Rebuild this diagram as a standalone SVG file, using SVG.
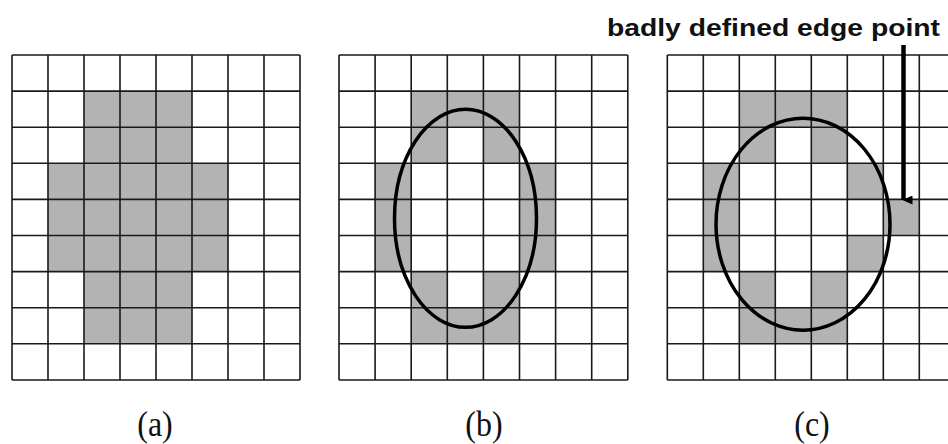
<svg xmlns="http://www.w3.org/2000/svg" width="948" height="444" viewBox="0 0 948 444">
<style>
.bg{fill:#ffffff}
.g{fill:#b3b3b3;stroke:none}
.ln{stroke:#1a1a1a;stroke-width:1.6;fill:none}
.el{fill:none;stroke:#000;stroke-width:3.5}
.lab{font-family:"Liberation Serif","Times New Roman",serif;font-size:32px;fill:#111;text-anchor:middle}
.note{font-family:"Liberation Sans",Arial,sans-serif;font-weight:bold;font-size:23px;fill:#111}
</style>
<defs>
<marker id="ah" markerWidth="9" markerHeight="10" refX="4.5" refY="9" orient="auto-start-reverse" markerUnits="userSpaceOnUse" viewBox="0 0 9 10">
<path d="M0,0 L9,0 L4.5,10 Z" fill="#000"/>
</marker>
</defs>
<rect class="bg" x="0" y="0" width="948" height="444"/>

<g id="panel-a">
<g class="g">
<rect x="84" y="91.1" width="108" height="72.2"/>
<rect x="48" y="163.3" width="180" height="108.3"/>
<rect x="84" y="271.6" width="108" height="72.2"/>
</g>
<g class="ln">
<path d="M12,55V380M48,55V380M84,55V380M120,55V380M156,55V380M192,55V380M228,55V380M264,55V380M300,55V380"/>
<path d="M12,55H300M12,91.1H300M12,127.2H300M12,163.3H300M12,199.4H300M12,235.5H300M12,271.6H300M12,307.7H300M12,343.8H300M12,380H300"/>
</g>
<text class="lab" x="155" y="436" transform="translate(155 436) scale(1 1.12) translate(-155 -436)">(a)</text>
</g>

<g id="panel-b">
<g class="g">
<rect x="411.2" y="91.1" width="108.3" height="36.1"/>
<rect x="411.2" y="127.2" width="36.1" height="36.1"/>
<rect x="483.4" y="127.2" width="36.1" height="36.1"/>
<rect x="375.1" y="163.3" width="36.1" height="108.3"/>
<rect x="519.5" y="163.3" width="36.1" height="108.3"/>
<rect x="411.2" y="271.6" width="36.1" height="36.1"/>
<rect x="483.4" y="271.6" width="36.1" height="36.1"/>
<rect x="411.2" y="307.7" width="108.3" height="36.1"/>
</g>
<g class="ln">
<path d="M339,55V380M375.1,55V380M411.2,55V380M447.3,55V380M483.4,55V380M519.5,55V380M555.6,55V380M591.7,55V380M627.8,55V380"/>
<path d="M339,55H627.8M339,91.1H627.8M339,127.2H627.8M339,163.3H627.8M339,199.4H627.8M339,235.5H627.8M339,271.6H627.8M339,307.7H627.8M339,343.8H627.8M339,380H627.8"/>
</g>
<ellipse class="el" cx="465.5" cy="218.3" rx="71" ry="109"/>
<text class="lab" x="484" y="436" transform="translate(484 436) scale(1 1.12) translate(-484 -436)">(b)</text>
</g>

<g id="panel-c">
<g class="g">
<rect x="739.3" y="91.1" width="108" height="36.1"/>
<rect x="739.3" y="127.2" width="36" height="36.1"/>
<rect x="811.3" y="127.2" width="36" height="36.1"/>
<rect x="703.3" y="163.3" width="36" height="108.3"/>
<rect x="847.3" y="163.3" width="36" height="36.1"/>
<rect x="883.3" y="199.4" width="36" height="36.1"/>
<rect x="847.3" y="235.5" width="36" height="36.1"/>
<rect x="739.3" y="271.6" width="36" height="36.1"/>
<rect x="811.3" y="271.6" width="36" height="36.1"/>
<rect x="739.3" y="307.7" width="108" height="36.1"/>
</g>
<g class="ln">
<path d="M667.3,55V380M703.3,55V380M739.3,55V380M775.3,55V380M811.3,55V380M847.3,55V380M883.3,55V380M919.3,55V380"/>
<path d="M667.3,55H948M667.3,91.1H948M667.3,127.2H948M667.3,163.3H948M667.3,199.4H948M667.3,235.5H948M667.3,271.6H948M667.3,307.7H948M667.3,343.8H948M667.3,380H948"/>
</g>
<ellipse class="el" cx="803" cy="224.2" rx="87" ry="106"/>
<text class="lab" x="812" y="436" transform="translate(812 436) scale(1 1.12) translate(-812 -436)">(c)</text>
</g>

<g id="note">
<text class="note" x="607" y="35.5" textLength="333" lengthAdjust="spacingAndGlyphs">badly defined edge point</text>
</g>

<g id="connectors">
<line x1="903.5" y1="45" x2="903.5" y2="200" stroke="#000" stroke-width="4.5" marker-end="url(#ah)"/>
</g>
</svg>
